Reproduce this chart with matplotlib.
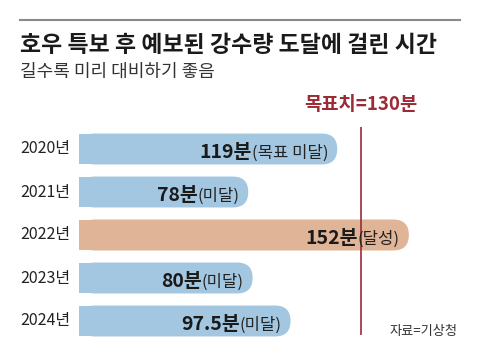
import matplotlib.pyplot as plt
from matplotlib.patches import FancyBboxPatch, Rectangle
from matplotlib.lines import Line2D

plt.rcParams['font.family'] = ['Noto Sans CJK KR', 'DejaVu Sans']

# data
years = ['2020년', '2021년', '2022년', '2023년', '2024년']
minutes = [119, 78, 152, 80, 97.5]
value_text = ['119분', '78분', '152분', '80분', '97.5분']
status_text = ['(목표 미달)', '(미달)', '(달성)', '(미달)', '(미달)']
target = 130

W, H = 480, 357
fig = plt.figure(figsize=(W / 100, H / 100), dpi=100)

# axes placed in pixel terms: x from 79 to 479 px, y from 120 to 345 px
px_per_min = 2.17
px_per_row = 43
ax = fig.add_axes([79 / W, (H - 345) / H, 400 / W, 225 / H])
ax.set_xlim(0, 400 / px_per_min)
ax.set_ylim((345 - 149) / px_per_row, (120 - 149) / px_per_row)
ax.axis('off')

blue = '#a4c7e1'
orange = '#e0b497'
red = '#9c2b36'
bar_h = 0.72
r_x = (bar_h * px_per_row / 2) / px_per_min  # radius in minute units
aspect = (bar_h / 2) / r_x

for i, v in enumerate(minutes):
    c = orange if i == 2 else blue
    ax.add_patch(FancyBboxPatch((0, i - bar_h / 2), v, bar_h,
                                boxstyle=f'round,pad=0,rounding_size={r_x}',
                                mutation_aspect=aspect, fc=c, ec='none'))
    ax.add_patch(Rectangle((0, i - bar_h / 2), v / 2, bar_h, fc=c, ec='none'))

# target line
ax.vlines(target, (127 - 149) / px_per_row, (335 - 149) / px_per_row,
          color=red, lw=1.2)
ax.text(target, (105 - 149) / px_per_row, f'목표치={target}분', color=red,
        fontsize=13.5, fontweight='bold', ha='center', va='center')

# labels
for i, v in enumerate(minutes):
    ax.text(-9 / px_per_min, i, years[i], ha='right', va='center',
            fontsize=11.5, color='#222222')
    st = ax.text(v - 9 / px_per_min, i + 0.2, status_text[i], ha='right',
                 va='baseline', fontsize=12, color='#222222')
    ax.annotate(value_text[i], xy=(0, i + 0.2), xycoords=(st, ax.transData),
                ha='right', va='baseline', fontsize=14, fontweight='bold',
                color='#1a1a1a')

# header
fig.add_artist(Line2D([20 / W, 460 / W], [1 - 20 / H, 1 - 20 / H],
                      color='#8a8a8a', lw=1.5))
fig.text(20 / W, 1 - 45 / H, '호우 특보 후 예보된 강수량 도달에 걸린 시간',
         fontsize=16.5, fontweight='bold', color='#1a1a1a', va='center')
fig.text(20 / W, 1 - 72 / H, '길수록 미리 대비하기 좋음',
         fontsize=13, color='#333333', va='center')
fig.text(458 / W, 1 - 332 / H, '자료=기상청', fontsize=9.5, color='#333333',
         ha='right', va='center')

fig.savefig('out.png', dpi=100)
